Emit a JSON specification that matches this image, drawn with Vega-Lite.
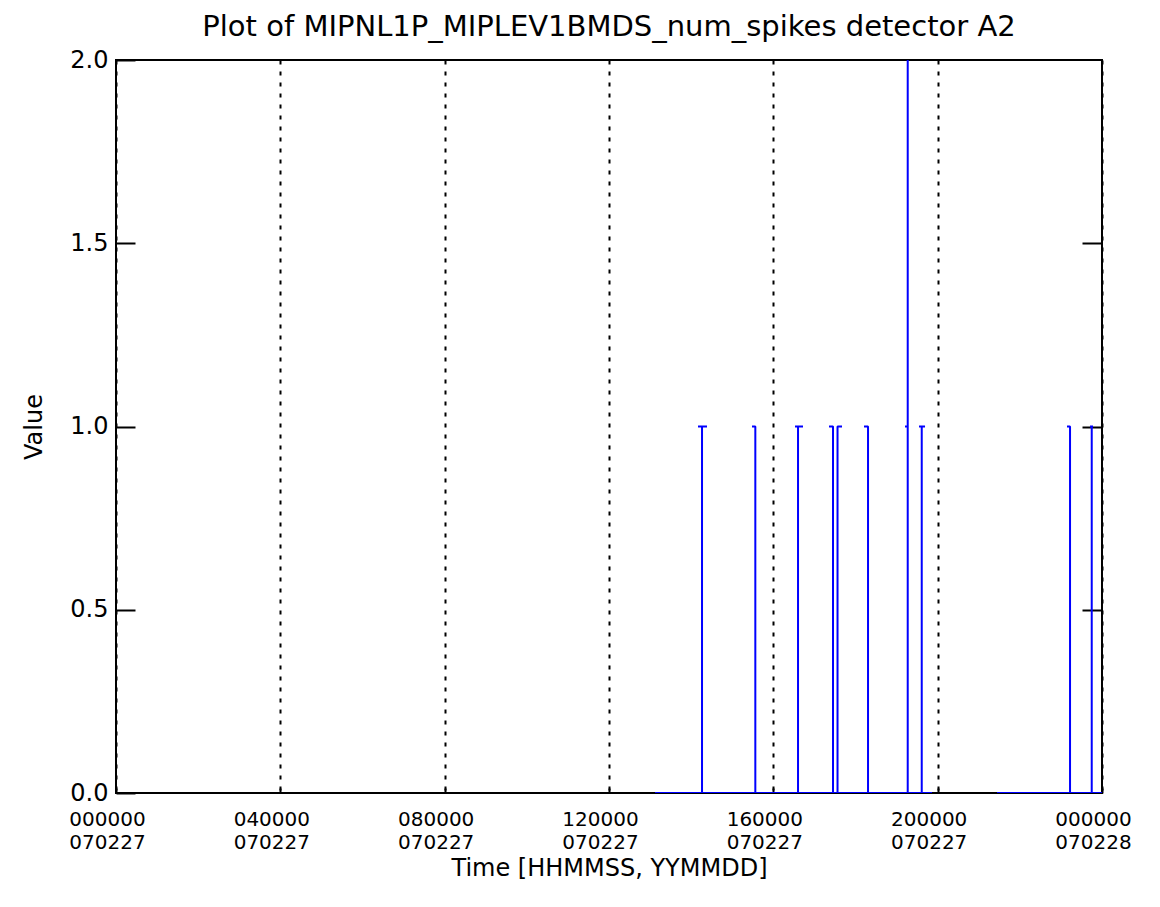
{
  "$schema": "https://vega.github.io/schema/vega-lite/v6.json",
  "autosize": "none",
  "padding": {"left": 116, "top": 60, "right": 58, "bottom": 114},
  "width": 986,
  "height": 733,
  "background": "white",
  "config": {
    "font": "DejaVu Sans",
    "view": {"stroke": "black", "strokeWidth": 2},
    "axis": {"labelFont": "DejaVu Sans", "titleFont": "DejaVu Sans", "labelColor": "black", "titleColor": "black", "titleFontWeight": "normal", "tickColor": "black", "domain": false}
  },
  "title": {"text": "Plot of MIPNL1P_MIPLEV1BMDS_num_spikes detector A2", "fontSize": 29, "fontWeight": "normal", "font": "DejaVu Sans", "color": "black", "anchor": "middle", "offset": 6},
  "data": {"values": [
    {"seg": "A", "ord": 1, "t": 47233, "v": 0},
    {"seg": "A", "ord": 2, "t": 51351, "v": 0},
    {"seg": "A", "ord": 3, "t": 51351, "v": 1},
    {"seg": "A", "ord": 4, "t": 51001, "v": 1},
    {"seg": "A", "ord": 5, "t": 51789, "v": 1},
    {"seg": "A", "ord": 6, "t": 51351, "v": 1},
    {"seg": "A", "ord": 7, "t": 51351, "v": 0},
    {"seg": "A", "ord": 8, "t": 56022, "v": 0},
    {"seg": "A", "ord": 9, "t": 56022, "v": 1},
    {"seg": "A", "ord": 10, "t": 55733, "v": 1},
    {"seg": "A", "ord": 11, "t": 56022, "v": 1},
    {"seg": "A", "ord": 12, "t": 56022, "v": 0},
    {"seg": "A", "ord": 13, "t": 59764, "v": 0},
    {"seg": "A", "ord": 14, "t": 59764, "v": 1},
    {"seg": "A", "ord": 15, "t": 59501, "v": 1},
    {"seg": "A", "ord": 16, "t": 60202, "v": 1},
    {"seg": "A", "ord": 17, "t": 59764, "v": 1},
    {"seg": "A", "ord": 18, "t": 59764, "v": 0},
    {"seg": "A", "ord": 19, "t": 62830, "v": 0},
    {"seg": "A", "ord": 20, "t": 62830, "v": 1},
    {"seg": "A", "ord": 21, "t": 62480, "v": 1},
    {"seg": "A", "ord": 22, "t": 62830, "v": 1},
    {"seg": "A", "ord": 23, "t": 62830, "v": 0},
    {"seg": "A", "ord": 24, "t": 63225, "v": 0},
    {"seg": "A", "ord": 25, "t": 63225, "v": 1},
    {"seg": "A", "ord": 26, "t": 63619, "v": 1},
    {"seg": "A", "ord": 27, "t": 63225, "v": 1},
    {"seg": "A", "ord": 28, "t": 63225, "v": 0},
    {"seg": "A", "ord": 29, "t": 65898, "v": 0},
    {"seg": "A", "ord": 30, "t": 65898, "v": 1},
    {"seg": "A", "ord": 31, "t": 65547, "v": 1},
    {"seg": "A", "ord": 32, "t": 65898, "v": 1},
    {"seg": "A", "ord": 33, "t": 65898, "v": 0},
    {"seg": "A", "ord": 34, "t": 69376, "v": 0},
    {"seg": "A", "ord": 35, "t": 69376, "v": 1},
    {"seg": "A", "ord": 36, "t": 69140, "v": 1},
    {"seg": "A", "ord": 37, "t": 69376, "v": 1},
    {"seg": "A", "ord": 38, "t": 69376, "v": 2},
    {"seg": "A", "ord": 39, "t": 69376, "v": 0},
    {"seg": "A", "ord": 40, "t": 70604, "v": 0},
    {"seg": "A", "ord": 41, "t": 70604, "v": 1},
    {"seg": "A", "ord": 42, "t": 70367, "v": 1},
    {"seg": "A", "ord": 43, "t": 70893, "v": 1},
    {"seg": "A", "ord": 44, "t": 70604, "v": 1},
    {"seg": "A", "ord": 45, "t": 70604, "v": 0},
    {"seg": "A", "ord": 46, "t": 71506, "v": 0},
    {"seg": "B", "ord": 1, "t": 77202, "v": 0},
    {"seg": "B", "ord": 2, "t": 83599, "v": 0},
    {"seg": "B", "ord": 3, "t": 83599, "v": 1},
    {"seg": "B", "ord": 4, "t": 83336, "v": 1},
    {"seg": "B", "ord": 5, "t": 83599, "v": 1},
    {"seg": "B", "ord": 6, "t": 83599, "v": 0},
    {"seg": "B", "ord": 7, "t": 85500, "v": 0},
    {"seg": "B", "ord": 8, "t": 85500, "v": 1},
    {"seg": "B", "ord": 9, "t": 85352, "v": 1},
    {"seg": "B", "ord": 10, "t": 85615, "v": 1},
    {"seg": "B", "ord": 11, "t": 85500, "v": 1},
    {"seg": "B", "ord": 12, "t": 85500, "v": 0},
    {"seg": "B", "ord": 13, "t": 86400, "v": 0}
  ]},
  "layer": [
    {
      "mark": {"type": "line", "color": "#0000ff", "strokeWidth": 2, "strokeJoin": "bevel", "clip": true},
      "encoding": {
        "x": {"field": "t", "type": "quantitative", "scale": {"domain": [0, 86400], "nice": false, "zero": false},
          "axis": {"values": [0, 14400, 28800, 43200, 57600, 72000, 86400], "title": "Time [HHMMSS, YYMMDD]", "titleFontSize": 24, "titlePadding": 4,
            "labelFontSize": 20, "labelLineHeight": 23, "labelPadding": 21, "labelOffset": -9, "labelOverlap": false, "labelFlush": false, "labelBaseline": "top",
            "labelExpr": "[(datum.value >= 86400 ? '00' : format(datum.value / 3600, '02d')) + '0000', datum.value >= 86400 ? '070228' : '070227']",
            "tickSize": -5, "tickWidth": 2,
            "grid": true, "gridColor": "black", "gridDash": [4, 7], "gridWidth": 2, "gridOpacity": 1}},
        "y": {"field": "v", "type": "quantitative", "scale": {"domain": [0, 2], "nice": false},
          "axis": {"values": [0, 0.5, 1, 1.5, 2], "format": ".1f", "title": "Value", "titleFontSize": 24, "titlePadding": 23,
            "labelFontSize": 24, "labelPadding": 27, "tickSize": -19, "tickWidth": 2, "grid": false}},
        "detail": {"field": "seg"},
        "order": {"field": "ord"}
      }
    },
    {
      "mark": {"type": "line", "opacity": 0},
      "encoding": {
        "x": {"field": "t", "type": "quantitative"},
        "y": {"field": "v", "type": "quantitative",
          "axis": {"orient": "right", "values": [0.5, 1, 1.5], "labels": false, "title": null, "tickSize": -20, "tickWidth": 2, "grid": false}},
        "detail": {"field": "seg"},
        "order": {"field": "ord"}
      }
    }
  ],
  "resolve": {"axis": {"y": "independent"}}
}
